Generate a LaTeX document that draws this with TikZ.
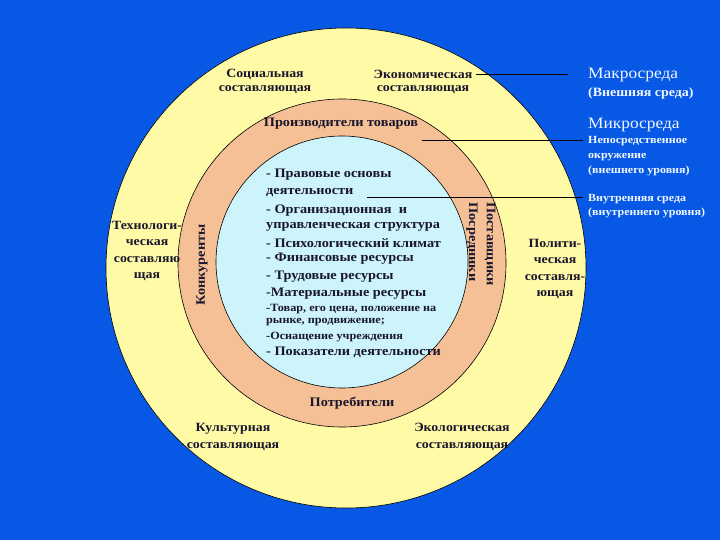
\documentclass[tikz,border=0pt]{standalone}
\usepackage{fontspec}
\setmainfont{Liberation Serif}[FakeStretch=1.1]
\begin{document}
\begin{tikzpicture}[x=1pt,y=-1pt]
\definecolor{bgblue}{RGB}{8,88,230}
\definecolor{yellowfill}{RGB}{255,250,165}
\definecolor{orangefill}{RGB}{246,192,150}
\definecolor{innerfill}{RGB}{204,244,250}
\definecolor{txt}{RGB}{25,22,45}
\definecolor{wtxt}{RGB}{240,248,255}
\tikzset{
  ring/.style={draw=black, line width=0.6pt},
  conn/.style={draw=black, line width=0.7pt},
  lab/.style={font=\bfseries\fontsize{12.6}{16.5}\selectfont, text=txt, align=center, inner sep=0pt},
  olab/.style={font=\bfseries\fontsize{13}{15}\selectfont, text=txt, inner sep=0pt},
  inl/.style={font=\bfseries\fontsize{13}{16}\selectfont, text=txt, anchor=west, inner sep=0pt},
  insm/.style={font=\bfseries\fontsize{11.1}{13}\selectfont, text=txt, anchor=west, inner sep=0pt},
  rbig/.style={font=\fontsize{15.8}{18}\selectfont, text=wtxt, anchor=west, inner sep=0pt},
  rmid/.style={font=\bfseries\fontsize{12.7}{14}\selectfont, text=wtxt, anchor=west, inner sep=0pt},
  rsm/.style={font=\bfseries\fontsize{10.9}{12}\selectfont, text=wtxt, anchor=west, inner sep=0pt}
}
\fill[bgblue] (0,0) rectangle (720,540);
\useasboundingbox (0,0) rectangle (720,540);
% circles
\filldraw[ring, fill=yellowfill] (346,268) circle[radius=240pt];
\filldraw[ring, fill=orangefill] (342,263) circle[radius=164pt];
\filldraw[ring, fill=innerfill] (342,262) circle[radius=126pt];
% macro components
\node[lab] (soc1) at (265,74) {Социальная};
\node[lab] (soc2) at (265,90) {составляющая};
\node[lab] (eco1) at (423,74) {Экономическая};
\node[lab] (eco2) at (423,90) {составляющая};
\node[lab] (tech) at (147,251) {Технологи-\\ческая\\составляю\\щая};
\node[lab] (pol) at (555,269) {Полити-\\ческая\\составля-\\ющая};
\node[lab] (kult) at (233,437) {Культурная\\составляющая};
\node[lab] (ekol) at (462,437) {Экологическая\\составляющая};
% micro components
\node[olab] (prod) at (341,124) {Производители товаров};
\node[olab] (potr) at (352,403) {Потребители};
\node[olab, rotate=90] (konk) at (202,265) {Конкуренты};
\node[olab, rotate=-90] (post) at (490,244) {Поставщики};
\node[olab, rotate=-90] (posr) at (472,242) {Посредники};
% internal
\node[inl] (i1) at (266,175) {- Правовые основы};
\node[inl] (i2) at (266,193) {деятельности};
\node[inl] (i3) at (266,211) {- Организационная\ \ и};
\node[inl] (i4) at (266,227) {управленческая структура};
\node[inl] (i5) at (266,243) {- Психологический климат};
\node[inl] (i6) at (266,259) {- Финансовые ресурсы};
\node[inl] (i7) at (266,277) {- Трудовые ресурсы};
\node[inl] (i8) at (266,294) {-Материальные ресурсы};
\node[insm] (i9) at (266,309) {-Товар, его цена, положение на};
\node[insm] (i10) at (266,322) {рынке, продвижение;};
\node[insm] (i11) at (266,337) {-Оснащение учреждения};
\node[inl] (i12) at (266,352) {- Показатели деятельности};
% right labels
\node[rbig] (makro) at (588,75) {Макросреда};
\node[rmid] (vnesh) at (588,93) {(Внешняя среда)};
\node[rbig] (mikro) at (588,125) {Микросреда};
\node[rsm] (nep) at (588,141) {Непосредственное};
\node[rsm] (okr) at (588,157) {окружение};
\node[rsm] (vneshur) at (588,171) {(внешнего уровня)};
\node[rsm] (vnutr) at (588,199) {Внутренняя среда};
\node[rsm] (vnutrur) at (588,213) {(внутреннего уровня)};
% connectors
\coordinate (m1) at (568,74);
\coordinate (c2) at (422,140);
\coordinate (c2e) at (583,140);
\coordinate (c3) at (367,197);
\coordinate (c3e) at (583,197);
\draw[conn] ([xshift=3pt]eco1.east) -- (m1);
\draw[conn] (c2) -- (c2e);
\draw[conn] (c3) -- (c3e);
\end{tikzpicture}
\end{document}
